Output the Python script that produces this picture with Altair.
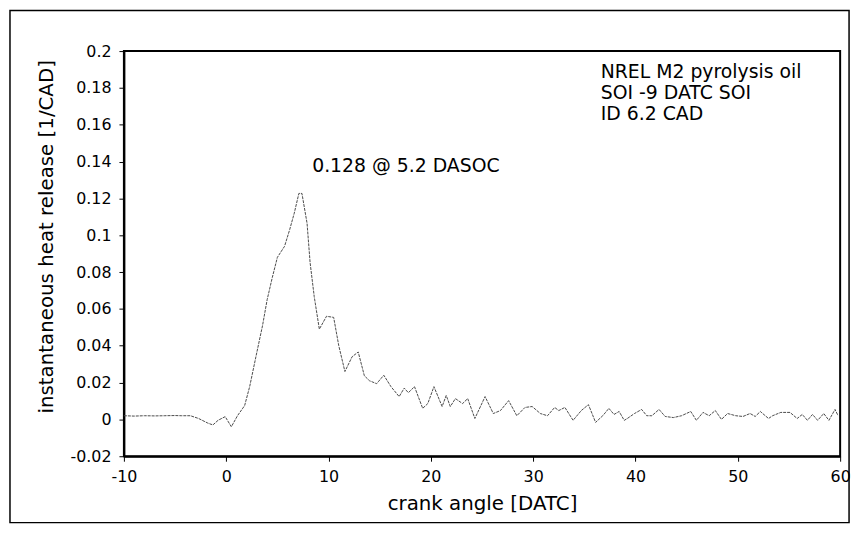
import altair as alt
import pandas as pd

angle = [-10, -9, -8, -7, -6, -5, -4.4, -3.5, -2.7, -1.8, -1.3, -0.8, -0.1, 0.5, 1.1, 1.8,
         2.3, 2.9, 3.55, 4.0, 4.5, 5.0, 5.7, 6.2, 6.65, 7.1, 7.4, 7.9, 8.2, 8.6, 9.1, 9.8,
         10.5, 11.0, 11.6, 12.3, 12.9, 13.5, 14.0, 14.7, 15.4, 16.1, 16.9, 17.4, 17.8, 18.4,
         19.2, 19.7, 20.3, 21.1, 21.5, 21.9, 22.4, 23.1, 23.6, 24.3, 25.3, 26.1, 26.8, 27.6,
         28.4, 29.2, 29.9, 30.7, 31.4, 32.1, 32.5, 33.1, 33.9, 34.7, 35.4, 36.1, 36.8, 37.4,
         37.9, 38.4, 38.9, 39.2, 39.9, 40.6, 41.1, 41.6, 42.3, 42.9, 43.7, 44.5, 45.4, 45.95,
         46.6, 47.2, 47.8, 48.4, 49.0, 49.8, 50.5, 51.2, 51.7, 52.2, 53.0, 53.4, 54.2, 55.1,
         55.8, 56.3, 56.8, 57.3, 57.8, 58.4, 58.9, 59.5, 59.8]
heat = [0.002, 0.0018, 0.002, 0.0019, 0.002, 0.0021, 0.002, 0.002, 0.0005, -0.002, -0.003,
        -0.0005, 0.0015, -0.004, 0.002, 0.0075, 0.018, 0.034, 0.051, 0.065, 0.077, 0.088,
        0.094, 0.103, 0.112, 0.1227, 0.1227, 0.1065, 0.085, 0.0667, 0.049, 0.056, 0.0554,
        0.040, 0.026, 0.034, 0.0366, 0.0237, 0.021, 0.0194, 0.024, 0.0178, 0.0124, 0.017,
        0.0145, 0.0178, 0.006, 0.0086, 0.0178, 0.007, 0.013, 0.007, 0.0113, 0.0086, 0.0113,
        0.0005, 0.0124, 0.0032, 0.0048, 0.0102, 0.002, 0.0065, 0.007, 0.0032, 0.002, 0.0065,
        0.0048, 0.0065, -0.0005, 0.0048, 0.008, -0.0016, 0.002, 0.006, 0.0027, 0.0043,
        -0.0005, 0.0005, 0.0032, 0.0054, 0.002, 0.002, 0.0054, 0.0016, 0.001, 0.002, 0.0043,
        -0.0005, 0.0038, 0.002, 0.0048, 0.0, 0.0032, 0.002, 0.0016, 0.0032, 0.0016, 0.0043,
        0.0005, 0.002, 0.0038, 0.0038, 0.0005, 0.0027, -0.0005, 0.0027, -0.0005, 0.0032,
        -0.0005, 0.0054, 0.002]

x_ticks = [-10, 0, 10, 20, 30, 40, 50, 60]
y_ticks = [-0.02, 0, 0.02, 0.04, 0.06, 0.08, 0.1, 0.12, 0.14, 0.16, 0.18, 0.2]

info_text = ["NREL M2 pyrolysis oil", "SOI -9 DATC SOI", "ID 6.2 CAD"]
info_x = [36.6, 36.6, 36.6]
info_y = [0.1888, 0.1772, 0.1656]

peak_text = ["0.128 @ 5.2 DASOC"]
peak_x = [8.4]
peak_y = [0.1375]

FONT = "DejaVu Sans"
LABEL_EXPR = "'' + datum.value"

df = pd.DataFrame({"angle": angle, "heat": heat})
info_df = pd.DataFrame({"t": info_text, "x": info_x, "y": info_y})
peak_df = pd.DataFrame({"t": peak_text, "x": peak_x, "y": peak_y})

xs = alt.Scale(domain=[-10, 60], nice=False, zero=False)
ys = alt.Scale(domain=[-0.02, 0.2], nice=False, zero=False)

line = alt.Chart(df).mark_line(color="#4a4a4a", strokeWidth=1, strokeDash=[3, 1]).encode(
    x=alt.X("angle:Q", scale=xs,
            axis=alt.Axis(title="crank angle [DATC]", values=x_ticks, tickCount=30,
                          labelExpr=LABEL_EXPR, grid=False, tickSize=5, labelPadding=7,
                          titleY=48, titleBaseline="middle", labelOverlap=False,
                          labelFlush=False)),
    y=alt.Y("heat:Q", scale=ys,
            axis=alt.Axis(title="instantaneous heat release [1/CAD]", values=y_ticks,
                          tickCount=30, labelExpr=LABEL_EXPR, grid=False, tickSize=5,
                          labelPadding=8, titleX=-78, titleY=187,
                          titleBaseline="middle", titleAlign="center", titleAngle=-90,
                          labelOverlap=False, labelFlush=False)),
)

info = alt.Chart(info_df).mark_text(align="left", baseline="middle", fontSize=19,
                                    font=FONT, color="black").encode(
    x=alt.X("x:Q", scale=xs), y=alt.Y("y:Q", scale=ys), text="t:N")

peak = alt.Chart(peak_df).mark_text(align="left", baseline="middle", fontSize=19,
                                    font=FONT, color="black").encode(
    x=alt.X("x:Q", scale=xs), y=alt.Y("y:Q", scale=ys), text="t:N")

frame = alt.Chart(peak_df).mark_rect(fill=None, stroke="black", strokeWidth=1.5,
                                     clip=False).encode(
    x=alt.value(-115), x2=alt.value(732), y=alt.value(-41), y2=alt.value(476))

chart = alt.layer(frame, line, peak, info).properties(
    width=723, height=409,
    autosize=alt.AutoSizeParams(type="none"),
    padding={"left": 117, "top": 41, "right": 15, "bottom": 75},
    background="white",
).configure_view(stroke="black", strokeWidth=2).configure_axis(
    domainColor="black", domainWidth=2, tickColor="black", tickWidth=1,
    labelFont=FONT, titleFont=FONT, labelFontSize=16, titleFontSize=20,
    labelColor="black", titleColor="black", titleFontWeight="normal",
    labelOverlap=False, labelFlush=False,
)

chart.save("out.html", embed_options={"renderer": "svg", "actions": False})
